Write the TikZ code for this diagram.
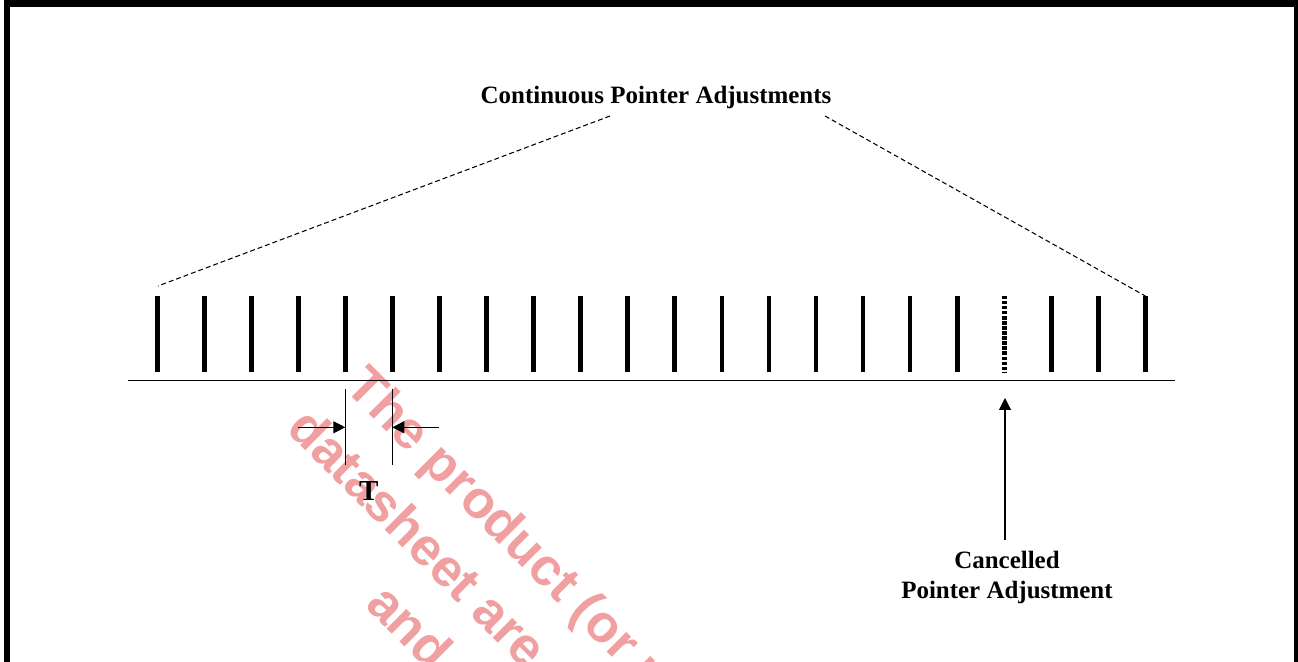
\documentclass[tikz,border=0pt]{standalone}
\usepackage{fontspec}
\setmainfont{Liberation Serif}
\newfontfamily\wmfont{Liberation Sans}
\usetikzlibrary{arrows.meta,calc}
\definecolor{wmred}{RGB}{240,160,160}

\begin{document}
\begin{tikzpicture}[
  x=0.02cm, y=-0.02cm,
  lbl/.style={font=\bfseries\fontsize{14.2}{17.1}\selectfont, inner sep=0pt},
  tick/.style={line width=2.7pt},
  dimline/.style={line width=0.6pt},
  arr/.style={-{Triangle[length=6.8pt,width=6.8pt]}, line width=0.6pt},
  guide/.style={dash pattern=on 2.8pt off 1.7pt, line width=0.6pt},
  wm/.style={text=wmred, font=\wmfont\bfseries\fontsize{30}{36}\selectfont,
             rotate=-45, anchor=base west, inner sep=0pt}
]
\useasboundingbox (0,0) rectangle (1298,662);
\clip (0,0) rectangle (1298,662);

% ======= Watermark =======
\node[wm] (wm1) at (343,388) {The product (or m};
\node[wm] (wm2) at (285,430) {datasheet are};
\node[wm] (wm3) at (364,606) {and};

% ======= Frame =======
\draw[line width=3.5pt] (7,3.5) rectangle (1297,800);

% ======= Title =======
\node[lbl, anchor=base] (title) at (656,103.3) {Continuous Pointer Adjustments};
\coordinate (tl) at (610,116);
\coordinate (tr) at (825,116);

% ======= Pointer Adjustments =======
\draw[line width=0.85pt] (128,380.3) -- (1175,380.3);
\foreach \i in {1,...,22} {
  \coordinate (t\i) at ({157.3+47.05*(\i-1)},296);
  \coordinate (b\i) at ({157.3+47.05*(\i-1)},372);
}
\foreach \i in {1,...,18,20,21,22}
  \draw[tick] (t\i) -- (b\i);
\draw[tick, dash pattern=on 1.9pt off 0.97pt] (t19) -- (b19);

% ======= Guides =======
\coordinate (lend) at (158,286);
\draw[guide] (tl) -- (lend);
\draw[guide] (tr) -- (t22);

% ======= Period T =======
\coordinate (pa) at (345.3,389);
\coordinate (pb) at (345.3,465);
\coordinate (qa) at (392.3,389);
\coordinate (qb) at (392.3,465);
\draw[dimline] (pa) -- (pb);
\draw[dimline] (qa) -- (qb);
\coordinate (la) at (298.3,427.3);
\coordinate (ra) at (439.3,427.3);
\draw[arr] (la) -- (la -| pa);
\draw[arr] (ra) -- (ra -| qa);
\node[lbl, font=\bfseries\fontsize{16.5}{20}\selectfont, anchor=base] (period) at (368.7,500.5) {T};

% ======= Cancelled =======
\coordinate (gap) at (1005,398);
\node[lbl, anchor=north, align=center] (cancel) at (1007,551) {Cancelled\\Pointer Adjustment};
\draw[arr, shorten <=6.3pt] (gap |- cancel.north) -- (gap);

\end{tikzpicture}
\end{document}
